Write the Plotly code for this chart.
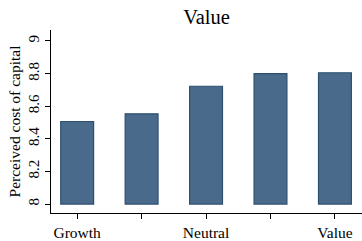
import plotly.graph_objects as go

positions = [1, 2, 3, 4, 5]
values = [8.506, 8.553, 8.722, 8.799, 8.805]
tick_vals = [1, 2, 3, 4, 5]
tick_text = ["Growth", "", "Neutral", "", "Value"]
y_ticks = [8, 8.2, 8.4, 8.6, 8.8, 9]
y_tick_text = ["8", "8.2", "8.4", "8.6", "8.8", "9"]
base = 8

fig = go.Figure(go.Bar(
    x=positions,
    y=[v - base for v in values],
    base=base,
    width=0.51,
    marker=dict(color="#4A6A8B", line=dict(color="#2C4F70", width=1.2)),
))

font = "Liberation Serif"
fig.update_layout(
    width=362, height=241,
    margin=dict(l=51, r=0, t=30, b=26),
    paper_bgcolor="white", plot_bgcolor="white",
    showlegend=False,
    font=dict(family=font, color="black", size=15),
    title=dict(text="Value", x=0.5, xref="paper", xanchor="center",
               y=0.93, yref="container", yanchor="middle",
               font=dict(family=font, size=20.5, color="black")),
    xaxis=dict(range=[0.594, 5.42], tickvals=tick_vals, ticktext=tick_text,
               showgrid=False, zeroline=False, showline=True, linecolor="black",
               linewidth=1, ticks="outside", ticklen=5, tickcolor="black",
               tickfont=dict(family=font, size=15.5)),
    yaxis=dict(range=[7.945, 9.067], tickvals=y_ticks, ticktext=y_tick_text,
               tickangle=-90,
               showgrid=False, zeroline=False, showline=True, linecolor="black",
               linewidth=1, ticks="outside", ticklen=5, tickcolor="black",
               tickfont=dict(family=font, size=15),
               title=dict(text="Perceived cost of capital", standoff=1,
                          font=dict(family=font, size=15.5))),
)

fig.write_html("out.html", post_script="document.body.style.margin='0';",
               config={"displayModeBar": False})
